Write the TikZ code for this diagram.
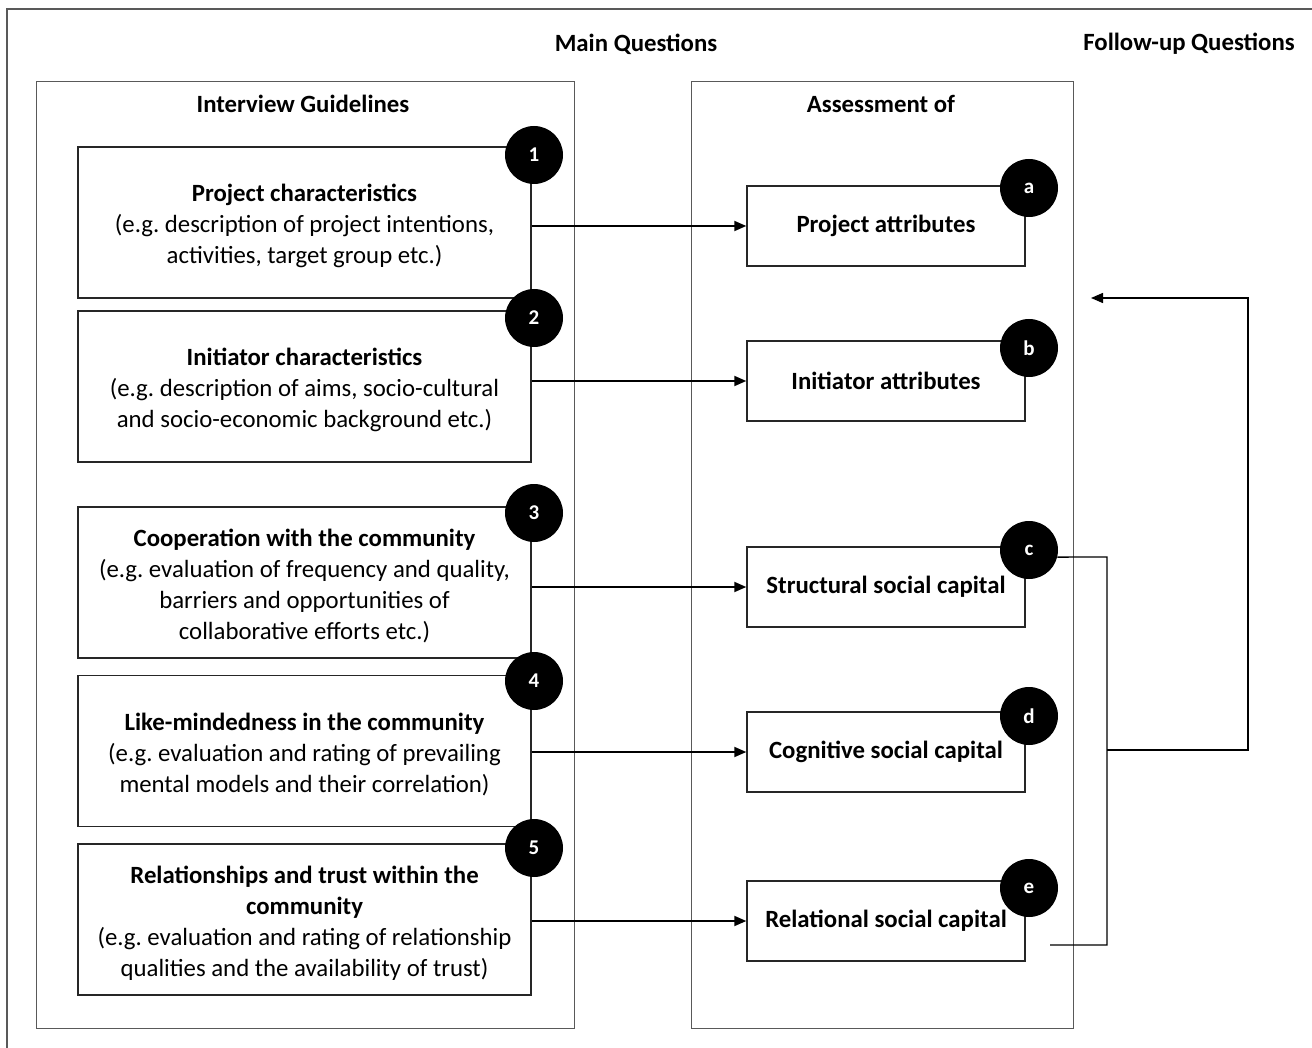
\documentclass[tikz,border=0pt]{standalone}
\usepackage{fontspec}
\setmainfont{Carlito}
\usetikzlibrary{arrows.meta,calc}
\frenchspacing
\newcommand{\toppad}{\rule{0pt}{25pt}}
\begin{document}
\begin{tikzpicture}[x=1pt,y=-1pt,
  txt/.style={font=\fontsize{24.8}{31}\selectfont\frenchspacing, align=center, inner sep=0pt},
  panel/.style={draw=black!65, line width=1pt},
  lbox/.style={draw=black!85, line width=1.4pt, minimum width=453pt, minimum height=151pt, txt},
  rbox/.style={draw=black!85, line width=1.4pt, minimum width=278pt, minimum height=80pt, txt, font=\fontsize{24.8}{31}\selectfont\bfseries},
  num/.style={circle, fill=black, minimum size=58pt, inner sep=0pt, text=white, font=\fontsize{21}{24}\selectfont\bfseries},
  conn/.style={line width=1.8pt, black},
  arr/.style={conn, -{Triangle[length=12pt,width=10pt]}},
  hdr/.style={txt, font=\fontsize{24.8}{31}\selectfont\bfseries}
]
\useasboundingbox (0,0) rectangle (1312,1048);
\fill[white] (0,0) rectangle (1312,1048);
% outer frame (top and left edges visible)
\draw[draw=black!65, line width=1.2pt] (7,1048) -- (7,9) -- (1312,9);
% headers
\node[hdr] (mq) at (636,44) {Main Questions};
\node[hdr] (fq) at (1189,44) {Follow-up Questions};
% panels
\draw[panel] (36,82) rectangle (574,1028);
\draw[panel] (691,82) rectangle (1073,1028);
\node[hdr] (ig) at (303,104) {Interview Guidelines};
\node[hdr] (ao) at (881,104) {Assessment of};
% left boxes
\node[lbox] (L1) at (304.5,222.5) {\toppad\textbf{Project characteristics}\\(e.g. description of project intentions,\\activities, target group etc.)};
\node[lbox] (L2) at (304.5,386.5) {\toppad\textbf{Initiator characteristics}\\(e.g. description of aims, socio-cultural\\and socio-economic background etc.)};
\node[lbox] (L3) at (304.5,582.5) {\toppad\textbf{Cooperation with the community}\\(e.g. evaluation of frequency and quality,\\barriers and opportunities of\\collaborative efforts etc.)};
\node[lbox] (L4) at (304.5,751) {\toppad\textbf{Like-mindedness in the community}\\(e.g. evaluation and rating of prevailing\\mental models and their correlation)};
\node[lbox] (L5) at (304.5,919.5) {\toppad\textbf{Relationships and trust within the}\\\textbf{community}\\(e.g. evaluation and rating of relationship\\qualities and the availability of trust)};
% right boxes
\node[rbox] (Ra) at (886,226) {Project attributes};
\node[rbox] (Rb) at (886,381) {Initiator attributes};
\node[rbox] (Rc) at (886,587) {Structural social capital};
\node[rbox] (Rd) at (886,752) {Cognitive social capital};
\node[rbox] (Re) at (886,921) {Relational social capital};
% arrows
\draw[arr] (L1.east |- Ra.west) -- (Ra.west);
\draw[arr] (L2.east |- Rb.west) -- (Rb.west);
\draw[arr] (L3.east |- Rc.west) -- (Rc.west);
\draw[arr] (L4.east |- Rd.west) -- (Rd.west);
\draw[arr] (L5.east |- Re.west) -- (Re.west);
% number circles
\node[num] (n1) at (534,155) {1};
\node[num] (n2) at (534,318) {2};
\node[num] (n3) at (534,513) {3};
\node[num] (n4) at (534,681) {4};
\node[num] (n5) at (534,848) {5};
\node[num] (na) at (1029,188) {a};
\node[num] (nb) at (1029,348) {b};
\node[num] (nc) at (1029,550) {c};
\node[num] (nd) at (1029,716) {d};
\node[num] (ne) at (1029,888) {e};
% follow-up connector
\coordinate (bend) at (1107,557);
\coordinate (eend) at (1050,945);
\coordinate (mid) at (1107,750);
\coordinate (rt) at (1248,750);
\coordinate (tip) at (1091,298);
\draw[conn, line width=1.4pt] (nc.-14) -- (bend) -- (bend |- eend) -- (eend);
\draw[arr, line width=1.4pt] (mid) -- (rt) -- (rt |- tip) -- (tip);
\end{tikzpicture}
\end{document}
